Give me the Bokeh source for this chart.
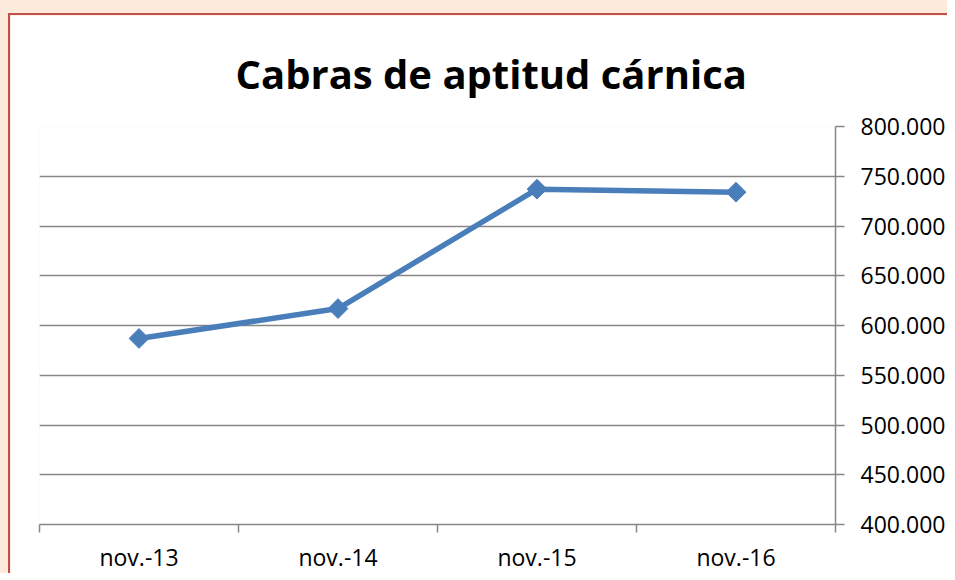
import math
from bokeh.plotting import figure
from bokeh.models import FixedTicker, Range1d
from bokeh.layouts import column
from bokeh.embed import file_html
from bokeh.resources import INLINE

categories = ["nov.-13", "nov.-14", "nov.-15", "nov.-16"]
values = [587000, 617000, 737000, 734000]
y_ticks = [400000, 450000, 500000, 550000, 600000, 650000, 700000, 750000, 800000]
y_labels = ["400.000", "450.000", "500.000", "550.000", "600.000", "650.000", "700.000", "750.000", "800.000"]
title_text = "Cabras de aptitud cárnica"

xs = [i + 0.5 for i in range(len(categories))]

FIG_W, FIG_H = 937, 557
p = figure(width=FIG_W, height=FIG_H, output_backend="svg", toolbar_location=None,
           x_range=Range1d(0, len(categories)), y_range=Range1d(400000, 800000),
           y_axis_location="right",
           frame_width=794, frame_height=396,
           min_border_left=29, min_border_right=114, min_border_top=111, min_border_bottom=50,
           border_fill_color="white", background_fill_color="white", outline_line_color=None)
p.styles = {"border-left": "2px solid #C0504D", "border-top": "2px solid #C0504D"}

p.title.text = title_text
p.title.text_font = "Open Sans"
p.title.text_font_size = "40px"
p.title.text_font_style = "bold"
p.title.text_color = "black"
p.title.align = "left"
p.title.offset = 196
p.title.standoff = 52

p.xgrid.visible = False
p.ygrid.ticker = FixedTicker(ticks=y_ticks)
p.ygrid.grid_line_color = "#868686"
p.ygrid.grid_line_width = 1.5

xa = p.xaxis[0]
xa.ticker = FixedTicker(ticks=xs, minor_ticks=list(range(len(categories) + 1)))
xa.major_label_overrides = {x: c for x, c in zip(xs, categories)}
xa.major_tick_line_color = None
xa.minor_tick_line_color = "#868686"
xa.minor_tick_line_width = 1.5
xa.minor_tick_in = 0
xa.minor_tick_out = 8
xa.axis_line_color = "#868686"
xa.axis_line_width = 1.5
xa.major_label_text_font = "Open Sans"
xa.major_label_text_font_size = "23px"
xa.major_label_text_color = "black"
xa.major_label_standoff = 8

ya = p.yaxis[0]
ya.ticker = FixedTicker(ticks=y_ticks)
ya.major_label_overrides = {t: l for t, l in zip(y_ticks, y_labels)}
ya.major_tick_line_color = "#868686"
ya.major_tick_line_width = 1.5
ya.major_tick_in = 0
ya.major_tick_out = 9
ya.minor_tick_line_color = None
ya.axis_line_color = "#868686"
ya.axis_line_width = 1.5
ya.major_label_text_font = "Open Sans"
ya.major_label_text_font_size = "23px"
ya.major_label_text_color = "black"
ya.major_label_standoff = 16

p.line(xs, values, line_color="#4A7EBB", line_width=5.5)
p.scatter(xs, values, marker="square", angle=math.pi / 4, size=14,
          fill_color="#4A7EBB", line_color="#4A7EBB")

layout = column(p, styles={"background-color": "#FDEADA", "padding": "13px 0px 0px 8px"})

open("out.html", "w").write(file_html(layout, INLINE))
